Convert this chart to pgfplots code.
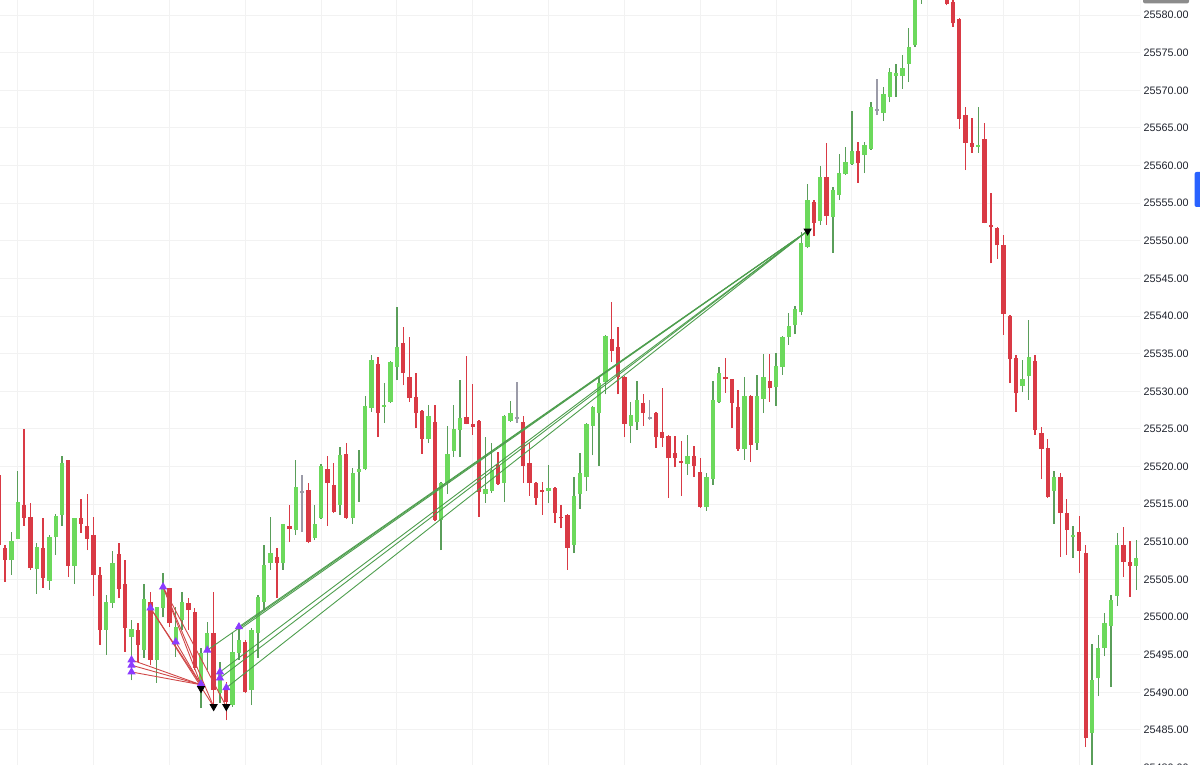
\documentclass[border=0pt]{standalone}
\usepackage{pgfplots}
\usepackage{pgfplotstable}
\pgfplotsset{compat=1.18}
\usepackage{fontspec}
\setmainfont{Liberation Sans}
\definecolor{cgreen}{HTML}{6CD95C}
\definecolor{cgwick}{HTML}{5A9E5A}
\definecolor{cred}{HTML}{D93A45}
\definecolor{cgray}{HTML}{9B9BA8}
\definecolor{cpurple}{HTML}{8C3BFF}
\definecolor{cline}{HTML}{4E9E4E}
\definecolor{credline}{HTML}{D04848}
\definecolor{labelcol}{HTML}{1E222D}
\definecolor{tvblue}{HTML}{2962FF}

\pgfplotstableread{
i o h l c
1 25507.6 25511.3 25505.6 25510.1
2 25510.4 25519.4 25510.4 25515.3
5 25506.4 25509.9 25503.1 25509.3
7 25504.8 25510.9 25503.6 25510.6
8 25510.6 25513.7 25508.3 25513.4
9 25513.6 25521.4 25512.1 25520.5
11 25506.8 25513.2 25504.4 25513.2
16 25498.3 25502.9 25495.0 25502.0
17 25501.9 25508.8 25501.2 25507.2
20 25497.4 25499.6 25491.6 25498.4
22 25495.6 25504.4 25494.6 25502.4
24 25494.3 25501.3 25491.3 25501.3
25 25501.2 25505.9 25500.0 25503.7
27 25497.0 25501.3 25494.7 25498.7
28 25499.6 25503.3 25498.3 25502.0
31 25491.0 25495.9 25487.9 25495.2
32 25495.6 25499.4 25493.0 25497.9
34 25489.9 25494.0 25488.6 25492.6
36 25488.3 25498.0 25488.1 25495.4
37 25495.2 25499.0 25494.3 25497.0
39 25490.3 25498.5 25488.3 25498.3
40 25497.9 25502.9 25494.6 25502.7
41 25502.0 25509.6 25500.9 25506.9
42 25507.2 25513.3 25506.3 25508.5
44 25507.2 25512.4 25506.3 25512.4
46 25511.6 25520.9 25510.9 25517.3
49 25510.5 25514.9 25510.2 25512.4
50 25513.2 25520.3 25513.0 25520.1
53 25514.9 25522.6 25513.6 25521.5
55 25513.2 25519.8 25512.4 25519.2
56 25519.3 25522.2 25515.3 25519.7
57 25519.7 25529.4 25519.5 25528.1
58 25527.8 25534.8 25527.3 25534.2
60 25527.9 25531.1 25525.8 25528.2
61 25528.6 25534.0 25528.5 25533.9
62 25533.2 25541.2 25531.5 25535.9
67 25523.7 25528.2 25523.1 25526.7
69 25512.9 25518.0 25508.9 25517.8
70 25517.8 25525.4 25516.4 25521.7
71 25522.1 25528.2 25521.3 25525.0
72 25524.9 25531.5 25521.3 25526.5
76 25516.4 25523.9 25515.2 25517.0
77 25516.8 25523.1 25516.5 25519.5
79 25517.8 25526.8 25515.3 25526.7
80 25526.1 25528.7 25525.9 25527.1
86 25516.8 25520.2 25515.2 25517.2
90 25509.6 25518.6 25508.5 25516.1
91 25516.4 25521.8 25514.4 25519.2
92 25518.6 25525.8 25516.8 25525.7
93 25525.4 25528.0 25521.5 25527.9
94 25527.1 25532.0 25520.1 25531.1
95 25531.2 25537.5 25529.6 25537.4
99 25525.4 25528.6 25523.1 25526.9
100 25525.9 25531.4 25524.9 25528.9
108 25520.3 25524.2 25518.9 25521.4
111 25514.6 25519.2 25514.1 25518.6
112 25518.4 25531.4 25517.6 25528.9
113 25528.6 25533.2 25528.5 25532.4
117 25522.3 25531.9 25520.9 25529.4
119 25523.1 25532.2 25522.2 25529.4
120 25529.0 25535.0 25527.1 25531.9
122 25530.6 25535.1 25528.1 25533.4
123 25533.2 25537.4 25532.2 25537.2
124 25537.2 25540.4 25536.2 25538.7
125 25538.8 25541.3 25537.6 25540.9
126 25540.5 25551.2 25540.1 25549.7
127 25549.2 25557.6 25549.0 25555.4
129 25552.6 25559.9 25552.1 25558.5
131 25553.2 25557.2 25548.4 25556.8
132 25556.1 25561.5 25555.4 25559.0
133 25558.9 25562.5 25558.8 25560.5
134 25560.2 25567.3 25560.1 25561.9
136 25561.4 25563.1 25559.0 25562.7
137 25562.2 25568.4 25562.1 25567.8
139 25567.0 25570.4 25565.9 25569.5
140 25569.1 25573.0 25568.4 25572.4
141 25571.9 25573.5 25569.1 25572.3
142 25571.9 25574.7 25570.2 25573.0
143 25573.5 25578.3 25571.1 25575.8
144 25576.0 25585.0 25575.8 25584.0
145 25584.0 25588.5 25581.5 25587.0
146 25587.0 25590.0 25585.0 25589.0
154 25562.5 25567.8 25561.7 25562.7
161 25530.7 25534.2 25529.9 25531.6
162 25532.0 25539.5 25528.9 25534.6
166 25516.8 25519.4 25512.4 25518.6
169 25510.6 25512.1 25507.9 25510.9
172 25484.6 25496.4 25480.0 25491.6
173 25491.9 25497.6 25489.5 25495.9
174 25495.9 25500.6 25494.8 25499.2
175 25498.8 25502.9 25490.7 25502.3
176 25502.8 25511.2 25501.5 25509.6
179 25506.8 25510.2 25503.6 25507.9
}\greendata

\pgfplotstableread{
i o h l c
-1 25518.9 25519.0 25509.5 25509.6
0 25509.2 25509.6 25504.7 25507.6
3 25514.9 25525.0 25512.1 25513.2
4 25513.3 25515.2 25506.3 25506.5
6 25509.2 25513.2 25503.9 25505.2
10 25520.9 25520.9 25505.3 25506.8
12 25513.2 25515.7 25511.2 25512.4
13 25512.1 25516.4 25508.9 25510.4
14 25510.9 25513.3 25502.8 25505.6
15 25505.6 25506.7 25496.3 25498.3
18 25508.4 25509.9 25502.5 25503.7
19 25504.4 25507.6 25495.4 25498.6
21 25498.3 25499.2 25494.0 25496.3
23 25502.0 25503.3 25493.6 25494.3
26 25503.9 25503.9 25498.7 25499.2
29 25501.9 25502.5 25498.3 25500.9
30 25500.7 25501.2 25493.0 25493.2
33 25497.9 25503.3 25488.1 25490.3
35 25490.7 25491.4 25486.3 25488.7
38 25496.7 25497.0 25489.9 25490.1
43 25508.0 25509.2 25502.5 25507.2
45 25512.1 25514.9 25510.0 25511.7
48 25516.9 25517.8 25509.8 25510.0
51 25519.7 25521.4 25512.1 25517.8
52 25517.6 25520.5 25513.8 25514.0
54 25521.7 25523.1 25513.0 25513.2
59 25533.6 25534.6 25523.9 25527.1
63 25536.4 25538.5 25530.8 25532.4
64 25531.9 25537.2 25528.6 25529.1
65 25529.2 25532.4 25525.1 25527.1
66 25527.4 25527.5 25521.7 25523.7
68 25525.9 25528.2 25512.7 25512.9
73 25526.6 25534.7 25525.6 25525.7
74 25525.7 25531.0 25524.2 25525.3
75 25526.1 25526.2 25513.3 25516.6
78 25520.2 25521.9 25517.6 25517.7
82 25525.9 25526.7 25517.8 25520.1
83 25520.5 25523.1 25516.1 25517.8
84 25517.8 25518.0 25514.9 25515.8
85 25516.9 25518.0 25513.6 25516.6
87 25517.2 25517.3 25512.5 25513.8
88 25513.3 25514.9 25511.8 25513.1
89 25513.6 25513.7 25506.3 25509.2
96 25537.0 25541.9 25533.9 25535.4
97 25535.9 25538.5 25529.6 25531.9
98 25531.9 25532.0 25523.9 25525.7
101 25528.5 25529.6 25525.4 25527.1
103 25527.1 25527.3 25522.5 25523.9
104 25524.6 25530.4 25522.6 25523.8
105 25524.1 25524.2 25515.8 25521.1
106 25521.8 25524.1 25519.9 25521.1
107 25520.6 25523.4 25516.1 25520.5
109 25521.4 25522.7 25518.6 25520.1
110 25519.3 25521.1 25514.5 25514.6
114 25531.9 25534.4 25529.8 25531.6
115 25531.6 25531.7 25525.1 25528.5
116 25527.9 25530.2 25522.1 25522.3
118 25529.4 25529.5 25520.6 25522.9
121 25531.4 25535.0 25528.6 25530.4
128 25555.2 25555.4 25550.6 25552.4
130 25558.5 25563.0 25552.1 25553.3
135 25561.9 25563.1 25557.7 25560.3
147 25589.0 25591.0 25586.0 25588.0
148 25588.0 25589.0 25584.0 25585.5
149 25585.5 25586.0 25581.3 25581.5
150 25581.8 25582.5 25578.4 25578.9
151 25579.5 25579.6 25564.9 25566.2
152 25566.7 25567.8 25559.4 25563.0
153 25563.0 25566.3 25561.7 25562.5
155 25563.5 25565.6 25552.3 25552.4
156 25552.1 25556.4 25547.0 25551.8
157 25551.7 25551.8 25547.6 25549.4
158 25549.4 25550.8 25537.5 25540.3
159 25540.0 25540.1 25531.1 25534.3
160 25534.4 25534.8 25527.3 25529.8
163 25534.0 25534.8 25524.2 25524.9
164 25524.5 25525.3 25518.4 25522.3
165 25522.5 25523.7 25515.8 25516.0
167 25518.6 25519.2 25508.0 25513.8
168 25513.8 25515.7 25508.3 25511.6
170 25511.3 25513.4 25505.9 25508.8
171 25508.5 25509.6 25482.7 25483.9
177 25509.6 25512.0 25505.3 25507.3
178 25507.3 25510.1 25502.7 25506.8
}\reddata

\pgfplotstableread{
i o h l c
47 25516.6 25518.9 25511.3 25516.6
81 25526.5 25531.2 25525.8 25526.5
102 25526.5 25528.9 25526.2 25526.5
138 25567.4 25571.5 25566.7 25567.4
}\graydata

\begin{document}
\begin{tikzpicture}
\useasboundingbox (0,0) rectangle (600pt,382.5pt);
\begin{axis}[
  at={(0,0)}, anchor=south west,
  scale only axis, width=570pt, height=382.5pt,
  xmin=-0.81, xmax=179.6,
  ymin=25480.34, ymax=25582.0,
  axis line style={draw=none},
  major tick length=0pt,
  xtick={2,14,26,38,50,62,74,86,98,110,122,134,146,158,170}, xticklabels={},
  ytick={25485,25490,25495,25500,25505,25510,25515,25520,25525,25530,25535,25540,25545,25550,25555,25560,25565,25570,25575,25580},
  yticklabels={25485.00,25490.00,25495.00,25500.00,25505.00,25510.00,25515.00,25520.00,25525.00,25530.00,25535.00,25540.00,25545.00,25550.00,25555.00,25560.00,25565.00,25570.00,25575.00,25580.00},
  scaled y ticks=false,
  xmajorgrids, ymajorgrids,
  grid style={draw=black!5, line width=0.5pt},
  yticklabel pos=right,
  yticklabel style={anchor=west, inner sep=0pt, xshift=1.6pt,
    font=\fontsize{5.4}{6}\selectfont, text=labelcol},
  clip=true,
]
\draw[black!15, line width=0.4pt] (rel axis cs:1,0) -- (rel axis cs:1,1);

% wicks
\addplot[draw=none, forget plot, error bars/.cd, y dir=plus, y explicit, error mark=none,
  error bar style={draw=cgwick, line width=0.7pt}]
  table[x=i, y=l, y error plus expr=\thisrow{h}-\thisrow{l}] {\greendata};
\addplot[draw=none, forget plot, error bars/.cd, y dir=plus, y explicit, error mark=none,
  error bar style={draw=cred, line width=0.7pt}]
  table[x=i, y=l, y error plus expr=\thisrow{h}-\thisrow{l}] {\reddata};
\addplot[draw=none, forget plot, error bars/.cd, y dir=plus, y explicit, error mark=none,
  error bar style={draw=cgray, line width=0.7pt}]
  table[x=i, y=l, y error plus expr=\thisrow{h}-\thisrow{l}] {\graydata};
% bodies
\addplot[draw=none, forget plot, error bars/.cd, y dir=plus, y explicit, error mark=none,
  error bar style={draw=cgreen, line width=2.15pt}]
  table[x=i, y=o, y error plus expr={max(\thisrow{c}-\thisrow{o},0.2)}] {\greendata};
\addplot[draw=none, forget plot, error bars/.cd, y dir=plus, y explicit, error mark=none,
  error bar style={draw=cred, line width=2.15pt}]
  table[x=i, y=c, y error plus expr={max(\thisrow{o}-\thisrow{c},0.2)}] {\reddata};
\addplot[draw=none, forget plot, error bars/.cd, y dir=plus, y explicit, error mark=none,
  error bar style={draw=cgray, line width=2.15pt}]
  table[x=i, y expr=\thisrow{o}-0.12, y error plus expr=0.25] {\graydata};

% red trade lines
\addplot[credline, line width=0.45pt] coordinates {(20,25494.3) (31,25491.0)};
\addplot[credline, line width=0.45pt] coordinates {(20,25493.6) (31,25491.0)};
\addplot[credline, line width=0.45pt] coordinates {(20,25492.7) (31,25491.0)};
\addplot[credline, line width=0.45pt] coordinates {(23,25501.2) (31,25491.0)};
\addplot[credline, line width=0.45pt] coordinates {(23,25501.2) (33,25488.1)};
\addplot[credline, line width=0.45pt] coordinates {(25,25504.0) (31,25491.0)};
\addplot[credline, line width=0.45pt] coordinates {(25,25504.0) (33,25488.1)};
\addplot[credline, line width=0.45pt] coordinates {(25,25504.0) (35,25488.1)};
\addplot[credline, line width=0.45pt] coordinates {(27,25496.7) (31,25491.0)};
% green trade lines
\addplot[cline, line width=0.45pt] coordinates {(32,25495.6) (127,25551.3)};
\addplot[cline, line width=0.45pt] coordinates {(34,25492.7) (127,25551.3)};
\addplot[cline, line width=0.45pt] coordinates {(34,25491.9) (127,25551.3)};
\addplot[cline, line width=0.45pt] coordinates {(35,25490.6) (127,25551.3)};
\addplot[cline, line width=0.45pt] coordinates {(37,25498.7) (127,25551.3)};
\addplot[cline, line width=0.45pt] coordinates {(37,25498.3) (127,25551.3)};

% markers
\addplot[only marks, mark=triangle*, mark size=2pt,
  mark options={fill=cpurple, draw=cpurple}] coordinates {
  (20,25494.3) (20,25493.6) (20,25492.7) (23,25501.2) (25,25504.0) (27,25496.7)
  (31,25491.1) (32,25495.6) (34,25492.7) (34,25491.9) (35,25490.6) (37,25498.7)};
\addplot[only marks, mark=triangle*, mark size=2pt,
  mark options={fill=black, draw=black, rotate=180}] coordinates {
  (31,25490.5) (33,25488.1) (35,25488.1) (127,25551.3)};
\end{axis}
\node[anchor=west, inner sep=0pt, font=\fontsize{5.4}{6}\selectfont, text=labelcol] at (571.6pt,-1.3pt) {25480.00};
\fill[tvblue, rounded corners=1pt] (597.3pt,279pt) rectangle (601pt,296.5pt);
\fill[black!45, rounded corners=1pt] (571.5pt,380.8pt) rectangle (594.5pt,384pt);
\end{tikzpicture}
\end{document}
